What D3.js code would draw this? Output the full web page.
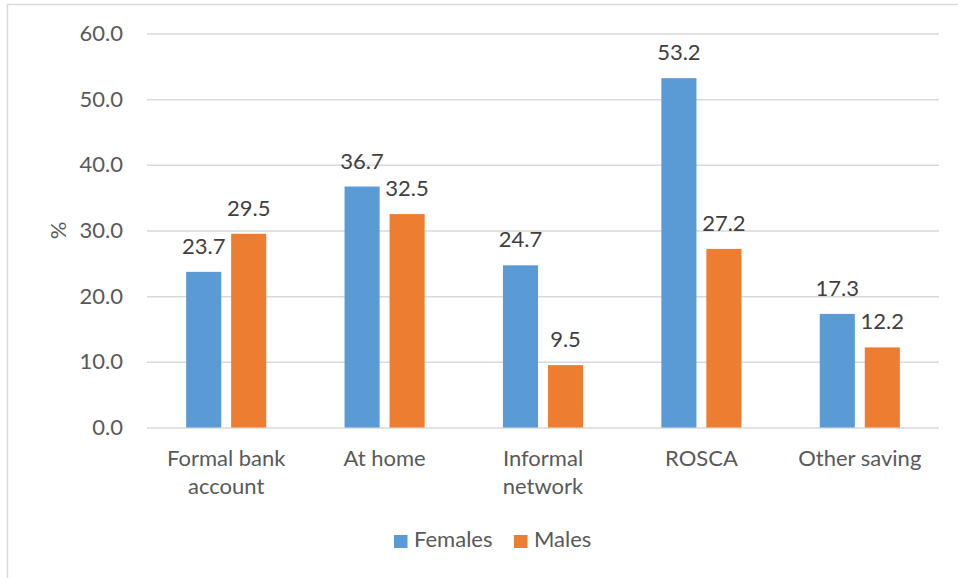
<!DOCTYPE html>
<html>
<head>
<meta charset="utf-8">
<script src="https://cdn.jsdelivr.net/npm/d3@7"></script>
<style>
  html, body { margin: 0; padding: 0; background: #fff; }
  svg { display: block; font-family: Lato, "Open Sans", sans-serif; }
</style>
</head>
<body>
<svg id="chart" width="958" height="578"></svg>
<script>
// Saving places by sex (%)
const categories = [["Formal bank", "account"], ["At home"], ["Informal", "network"], ["ROSCA"], ["Other saving"]];
const females = [23.7, 36.7, 24.7, 53.2, 17.3];
const males = [29.5, 32.5, 9.5, 27.2, 12.2];
const seriesNames = ["Females", "Males"];
const seriesColors = ["#5B9BD5", "#ED7D31"];
const yTicks = [0, 10, 20, 30, 40, 50, 60];

const svg = d3.select("#chart");
const W = 958, H = 578;
const plot = { left: 147, right: 939, top: 33.5, bottom: 427.5 };
const FS = 22;

// chart frame
svg.append("rect")
  .attr("x", 7.5).attr("y", 4.5)
  .attr("width", W - 4).attr("height", H)
  .attr("fill", "none").attr("stroke", "#d9d9d9").attr("stroke-width", 1.5);

const x0 = d3.scaleBand()
  .domain(d3.range(categories.length))
  .range([plot.left, plot.right]);
const x1 = d3.scaleBand()
  .domain([0, 1])
  .range([0, x0.bandwidth()])
  .paddingInner(0.22)
  .paddingOuter(0.87);
const y = d3.scaleLinear().domain([0, 60]).range([plot.bottom, plot.top]);

// gridlines and y tick labels
const yAxis = d3.axisLeft(y).tickValues(yTicks).tickSize(-(plot.right - plot.left))
  .tickFormat(d3.format(".1f")).tickPadding(24);
const gy = svg.append("g").attr("transform", `translate(${plot.left},0)`).call(yAxis);
gy.select(".domain").remove();
gy.selectAll(".tick line").attr("stroke", "#d9d9d9").attr("stroke-width", 1.5);
gy.selectAll(".tick text").attr("fill", "#595959").attr("font-size", FS)
  .attr("font-family", "Lato, 'Open Sans', sans-serif");

// y axis title
svg.append("text")
  .attr("transform", `translate(66,${(plot.top + plot.bottom) / 2}) rotate(-90)`)
  .attr("text-anchor", "middle")
  .attr("fill", "#595959").attr("font-size", FS)
  .text("%");

// bars
const data = categories.map((c, i) => [females[i], males[i]]);
const groups = svg.append("g").selectAll("g").data(data).join("g")
  .attr("transform", (d, i) => `translate(${x0(i)},0)`);

groups.selectAll("rect").data(d => d.map((v, s) => ({ v, s }))).join("rect")
  .attr("x", d => x1(d.s))
  .attr("width", x1.bandwidth())
  .attr("y", d => y(d.v))
  .attr("height", d => y(0) - y(d.v))
  .attr("fill", d => seriesColors[d.s]);

// value labels
groups.selectAll("text.val").data(d => d.map((v, s) => ({ v, s }))).join("text")
  .attr("class", "val")
  .attr("x", d => x1(d.s) + x1.bandwidth() / 2)
  .attr("y", d => y(d.v) - 18)
  .attr("text-anchor", "middle")
  .attr("fill", "#404040").attr("font-size", FS)
  .text(d => d3.format(".1f")(d.v));

// category labels
const cat = svg.append("g").selectAll("text").data(categories).join("text")
  .attr("x", (d, i) => x0(i) + x0.bandwidth() / 2)
  .attr("y", 466)
  .attr("text-anchor", "middle")
  .attr("fill", "#595959").attr("font-size", FS);
cat.selectAll("tspan").data(d => d).join("tspan")
  .attr("x", function () { return this.parentNode.getAttribute("x"); })
  .attr("dy", (d, i) => i === 0 ? 0 : 28)
  .text(d => d);

// legend
const legendX = [394, 514];
const lg = svg.append("g").selectAll("g").data(seriesNames).join("g")
  .attr("transform", (d, i) => `translate(${legendX[i]},535)`);
lg.append("rect").attr("width", 13.5).attr("height", 13)
  .attr("fill", (d, i) => seriesColors[i]);
lg.append("text").attr("x", 20).attr("y", 12)
  .attr("fill", "#595959").attr("font-size", FS)
  .text(d => d);
</script>
</body>
</html>
